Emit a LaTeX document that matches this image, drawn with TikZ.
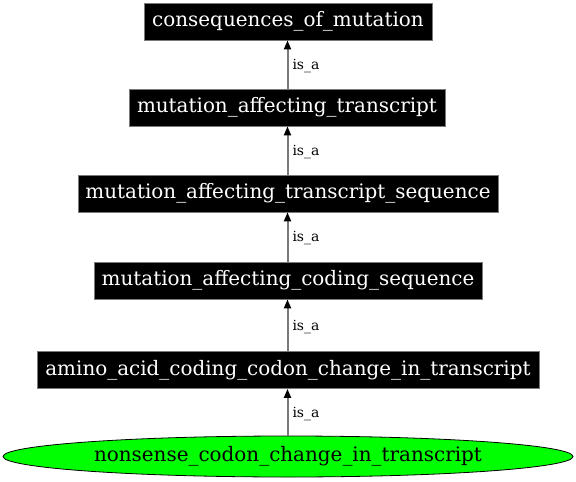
\documentclass[tikz,border=0pt]{standalone}
\usepackage{fontspec}
\setmainfont{DejaVu Serif}
\usetikzlibrary{shapes.geometric,arrows.meta}
\definecolor{edgegray}{HTML}{7A7A7A}
\definecolor{leafgreen}{HTML}{00FF00}
\tikzset{
  termbox/.style={rectangle, fill=black, draw=edgegray, line width=0.8bp, text=white,
    minimum height=37bp, inner sep=0pt, font=\fontsize{20}{24}\selectfont},
  leaf/.style={ellipse, fill=leafgreen, draw=black, line width=0.8bp, text=black,
    minimum height=41bp, minimum width=570bp, inner sep=0pt, font=\fontsize{20}{24}\selectfont},
  isa/.style={draw=edgegray, line width=2bp, -{Triangle[length=9bp,width=7bp,fill=black,color=black]}},
  lab/.style={font=\fontsize{14}{17}\selectfont, anchor=west, inner sep=0pt}
}
\begin{document}
\begin{tikzpicture}[x=1bp,y=-1bp]
\useasboundingbox (0,0) rectangle (576,482);
\node[termbox, minimum width=288bp] (n1) at (288,21.5) {consequences\_of\_mutation};
\node[termbox, minimum width=316bp] (n2) at (287,107.5) {mutation\_affecting\_transcript};
\node[termbox, minimum width=420bp] (n3) at (288,193.5) {mutation\_affecting\_transcript\_sequence};
\node[termbox, minimum width=388bp] (n4) at (288,280.5) {mutation\_affecting\_coding\_sequence};
\node[termbox, minimum width=502bp] (n5) at (288,370) {amino\_acid\_coding\_codon\_change\_in\_transcript};
\node[leaf] (n6) at (288,456.5) {nonsense\_codon\_change\_in\_transcript};
\draw[isa] (n2.north -| 287.5,0) -- node[lab, xshift=4bp, yshift=-1.5bp] {is\_a} (n1.south -| 287.5,0);
\draw[isa] (n3.north -| 287.5,0) -- node[lab, xshift=4bp, yshift=-1.5bp] {is\_a} (n2.south -| 287.5,0);
\draw[isa] (n4.north -| 287.5,0) -- node[lab, xshift=4bp, yshift=-1.5bp] {is\_a} (n3.south -| 287.5,0);
\draw[isa] (n5.north -| 287.5,0) -- node[lab, xshift=4bp, yshift=-1.5bp] {is\_a} (n4.south -| 287.5,0);
\draw[isa] (n6.north -| 287.5,0) -- node[lab, xshift=4bp, yshift=-1.5bp] {is\_a} (n5.south -| 287.5,0);
\end{tikzpicture}
\end{document}
